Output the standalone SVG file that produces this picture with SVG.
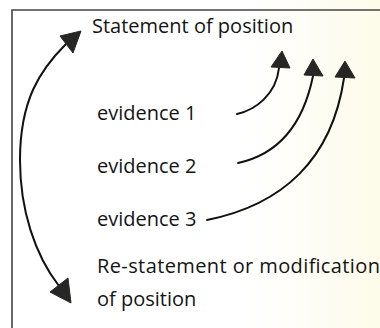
<svg xmlns="http://www.w3.org/2000/svg" width="380" height="328" viewBox="0 0 380 328">
  <defs>
    <linearGradient id="paper" x1="0" y1="0" x2="1" y2="0">
      <stop offset="0" stop-color="#ffffff"/>
      <stop offset="0.65" stop-color="#ffffff"/>
      <stop offset="1" stop-color="#fdfbea"/>
    </linearGradient>
    <style>
      .label { font-family: "Open Sans", "Liberation Sans", sans-serif; font-size: 20px; fill: #141414; }
      .link { fill: none; stroke: #111; stroke-width: 2; stroke-linecap: round; }
      .head { fill: #262624; stroke: #262624; stroke-width: 1; stroke-linejoin: round; }
      .frame { fill: none; stroke: #444; stroke-width: 1.6; }
    </style>
  </defs>

  <!-- page and frame -->
  <rect width="380" height="328" fill="url(#paper)"/>
  <path class="frame" d="M12,328 V10 H380"/>

  <!-- nodes -->
  <g id="statement">
    <text class="label" x="92" y="33">Statement of position</text>
  </g>
  <g id="evidence-1">
    <text class="label" x="97" y="120">evidence 1</text>
  </g>
  <g id="evidence-2">
    <text class="label" x="97" y="173">evidence 2</text>
  </g>
  <g id="evidence-3">
    <text class="label" x="97" y="226">evidence 3</text>
  </g>
  <g id="restatement">
    <text class="label" x="97" y="273" textLength="283" lengthAdjust="spacing">Re-statement or modification</text>
    <text class="label" x="97" y="306">of position</text>
  </g>

  <!-- connectors -->
  <g id="connectors">
    <!-- two-way arc between statement and re-statement -->
    <path class="link" d="M66,44 C40,70 20,100 20,160 C20,210 35,255 59,286"/>
    <polygon class="head" points="81,31 60,36 73,53"/>
    <polygon class="head" points="71,303 50,292 68,278"/>

    <!-- evidence arcs up to the statement -->
    <path class="link" d="M237,114 C255,110 276,95 279,68"/>
    <polygon class="head" points="282,51 271,67 290,68"/>

    <path class="link" d="M238,163 C275,155 302,130 313,76"/>
    <polygon class="head" points="313,59 304,75 323,76"/>

    <path class="link" d="M207,220 C282,205 332,160 344,78"/>
    <polygon class="head" points="345,61 335,77 355,78"/>
  </g>
</svg>
